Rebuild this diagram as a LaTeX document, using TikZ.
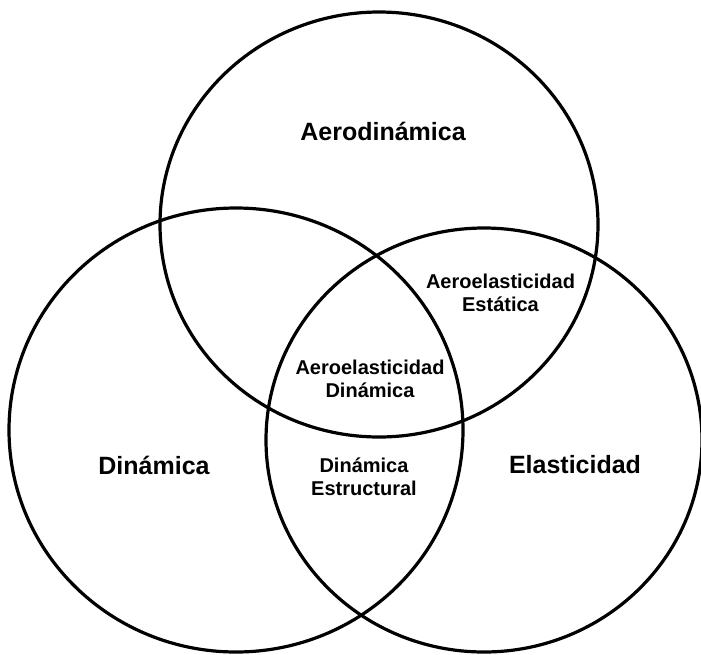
\documentclass[tikz,border=0pt]{standalone}
\usepackage{fontspec}
\setmainfont{Liberation Sans}
\tikzset{
  ring/.style={draw=black, line width=3.2pt},
  big/.style={font=\fontsize{25}{28}\selectfont\bfseries, inner sep=0pt},
  small/.style={font=\fontsize{20}{22.5}\selectfont\bfseries, align=center, inner sep=0pt}
}
\begin{document}
\begin{tikzpicture}[x=1pt,y=-1pt]
\useasboundingbox (0,0) rectangle (701,654);
\draw[ring] (379,224.5) ellipse [x radius=219pt, y radius=212.5pt];
\draw[ring] (236,430) ellipse [x radius=227pt, y radius=222pt];
\draw[ring] (484,440) ellipse [x radius=218pt, y radius=212pt];
\node[big] (aero) at (383,131) {Aerodinámica};
\node[big] (din) at (154,465) {Dinámica};
\node[big] (ela) at (575,465) {Elasticidad};
\node[small] (aes) at (500.5,293) {Aeroelasticidad\\Estática};
\node[small] (aed) at (370,379) {Aeroelasticidad\\Dinámica};
\node[small] (des) at (364,477) {Dinámica\\Estructural};
\end{tikzpicture}
\end{document}
